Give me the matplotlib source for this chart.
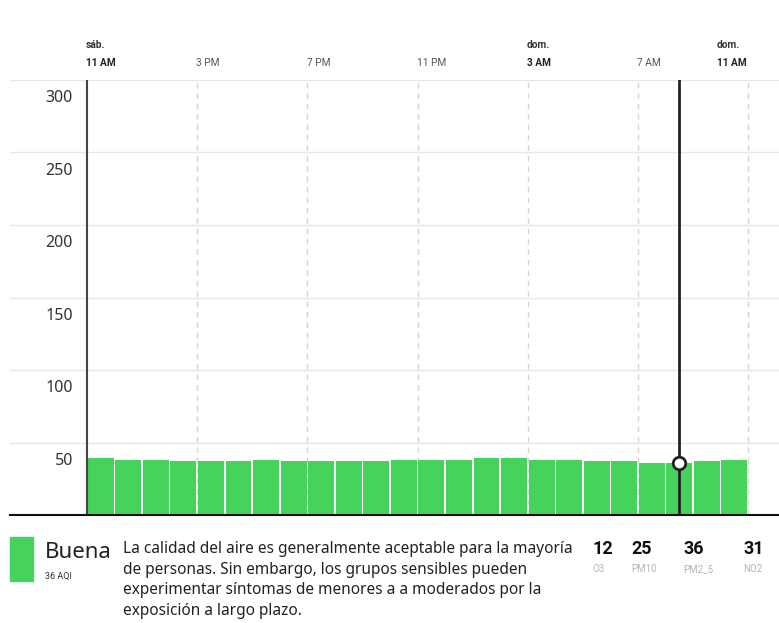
import matplotlib.pyplot as plt
from matplotlib.patches import Rectangle

# hourly AQI, sáb 11 AM -> dom 10 AM
hours = list(range(24))
aqi = [39, 38, 38, 37, 37, 37, 38, 37, 37, 37, 37, 38,
       38, 38, 39, 39, 38, 38, 37, 37, 36, 36, 37, 38]
selected = 21

tick_hours = [0, 4, 8, 12, 16, 20, 24]
tick_labels = ['11 AM', '3 PM', '7 PM', '11 PM', '3 AM', '7 AM', '11 AM']
tick_days = ['sáb.', '', '', '', 'dom.', '', 'dom.']
tick_bold = [True, False, False, False, True, False, True]

y_ticks = [50, 100, 150, 200, 250, 300]

category = 'Buena'
category_aqi = '36 AQI'
description = ['La calidad del aire es generalmente aceptable para la mayoría',
               'de personas. Sin embargo, los grupos sensibles pueden',
               'experimentar síntomas de menores a a moderados por la',
               'exposición a largo plazo.']
pollutants = ['O3', 'PM10', 'PM2_5', 'NO2']
pollutant_values = [12, 25, 36, 31]

GREEN = '#45d35b'
W, H = 779, 623

fig = plt.figure(figsize=(W / 100, H / 100), dpi=100)
ax = fig.add_axes([10 / W, (H - 515) / H, 769 / W, 435 / H])

px_per_hour = 27.55
ax.set_xlim(-77 / px_per_hour, 692 / px_per_hour)
ax.set_ylim(0, 300)

# bars
ax.bar([h + 0.03 for h in hours], aqi, width=0.94, align='edge', color=GREEN, zorder=2)

# horizontal grid
for v in y_ticks:
    ax.axhline(v, color='#e6e6e6', lw=1, zorder=0)
    ax.annotate(str(v), xy=(0.082, v), xycoords=ax.get_yaxis_transform(),
                xytext=(0, -13), textcoords='offset points',
                ha='right', va='center', fontsize=11.5, color='#333333',
                family='Noto Sans')

# vertical lines
for h in tick_hours[1:]:
    ax.axvline(h, color='#d5d5d5', lw=1, ls=(0, (4, 3.5)), zorder=1)
ax.axvline(0, color='#444444', lw=1.5, zorder=3)

# top labels (last one is pulled left so it stays inside the figure)
tr = ax.get_xaxis_transform()
for i, (h, lab, day, b) in enumerate(zip(tick_hours, tick_labels, tick_days, tick_bold)):
    x = h - 1.13 if i == len(tick_hours) - 1 else h - 0.03
    ax.text(x, 1.039, lab, transform=tr, ha='left', va='center',
            fontsize=7.3, fontweight='bold' if b else 'normal',
            color='#222222' if b else '#555555', family='Roboto')
    if day:
        ax.text(x, 1.081, day, transform=tr, ha='left', va='center',
                fontsize=7.3, fontweight='bold', color='#333333', family='Roboto')

# selected hour marker
sx = selected + 0.5
ax.axvline(sx, color='#222222', lw=2, zorder=4)
ax.plot([sx], [aqi[selected]], marker='o', ms=9, mfc='white', mec='#222222',
        mew=2, zorder=5, clip_on=False)

for s in ['top', 'left', 'right']:
    ax.spines[s].set_visible(False)
ax.spines['bottom'].set_color('#111111')
ax.spines['bottom'].set_linewidth(1.5)
ax.spines['bottom'].set_zorder(6)
ax.set_xticks([])
ax.set_yticks([])

# bottom legend
fig.patches.append(Rectangle((10 / W, 1 - 581 / H), 23 / W, 44 / H,
                             transform=fig.transFigure, color=GREEN))
fig.text(45 / W, 1 - 552 / H, category, fontsize=16, color='#222222',
         va='center', ha='left', family='Noto Sans')
fig.text(45 / W, 1 - 576 / H, category_aqi, fontsize=6.5, color='#333333',
         va='center', ha='left', family='Roboto')
for i, line in enumerate(description):
    fig.text(123 / W, 1 - (549 + 20.7 * i) / H, line, fontsize=11.1, color='#222222',
             va='center', ha='left', family='Noto Sans')

poll_x = [592, 631, 683, 743]
for x, name, val in zip(poll_x, pollutants, pollutant_values):
    fig.text(x / W, 1 - 549 / H, str(val), fontsize=13, fontweight='bold',
             color='#111111', va='center', ha='left', family='Roboto')
    fig.text(x / W, 1 - 569 / H, name, fontsize=7, color='#b5b5b5',
             va='center', ha='left', family='Roboto')

fig.savefig('out.png', dpi=100)
